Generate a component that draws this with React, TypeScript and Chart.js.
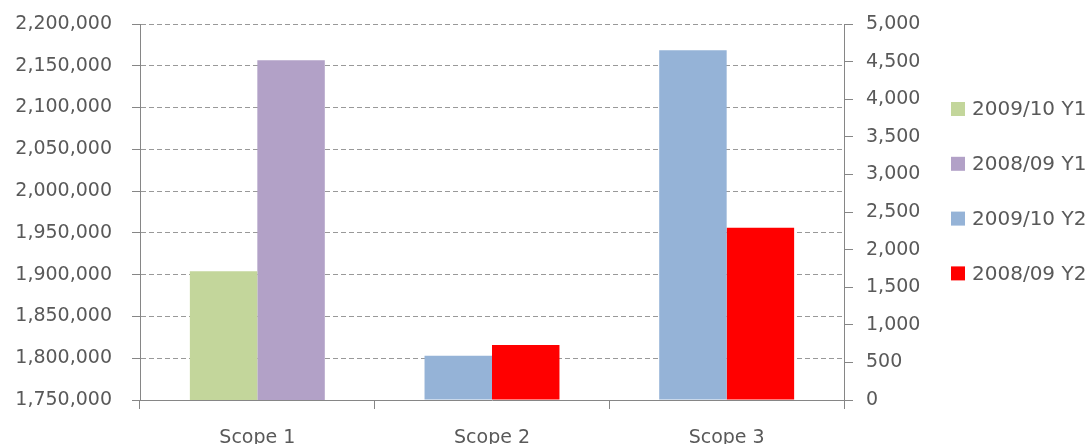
import React, { useEffect, useRef } from "react";
import { Chart, registerables } from "chart.js";

Chart.register(...registerables);

// ---- data ----
const categories = ["Scope 1", "Scope 2", "Scope 3"];
const seriesLabels = ["2009/10 Y1", "2008/09 Y1", "2009/10 Y2", "2008/09 Y2"];
const seriesColors = ["#C3D69B", "#B2A1C7", "#95B3D7", "#FF0000"];
const y1_2009_10 = [1904000, null, null];
const y1_2008_09 = [2156500, null, null];
const y2_2009_10 = [null, 590, 4650];
const y2_2008_09 = [null, 733, 2290];
const leftAxisMin = 1750000;
const leftAxisMax = 2200000;
const leftAxisStep = 50000;
const rightAxisMin = 0;
const rightAxisMax = 5000;
const rightAxisStep = 500;

const TEXT = "#595959";
const AXIS = "#868686";
const GRID = "#999999";
const FONT = "'DejaVu Sans', sans-serif";

const fmt = (v: number) => Number(v).toLocaleString("en-US");

const sideLegend = {
  id: "sideLegend",
  afterDraw(chart: any) {
    const ctx = chart.ctx as CanvasRenderingContext2D;
    const x0 = chart.width - 137;
    const yStart = chart.chartArea.top + 85;
    const gap = 54.8;
    ctx.save();
    ctx.font = `20px ${FONT}`;
    ctx.textBaseline = "middle";
    ctx.textAlign = "left";
    chart.data.datasets.forEach((ds: any, i: number) => {
      const y = yStart + i * gap;
      ctx.fillStyle = ds.backgroundColor;
      ctx.fillRect(x0, y - 7, 14, 14);
      ctx.fillStyle = TEXT;
      ctx.fillText(ds.label, x0 + 21, y + 1);
    });
    ctx.restore();
  },
};

export default function App() {
  const ref = useRef<HTMLCanvasElement | null>(null);

  useEffect(() => {
    if (!ref.current) return;
    const chart = new Chart(ref.current, {
      type: "bar",
      data: {
        labels: categories,
        datasets: [
          { label: seriesLabels[0], data: y1_2009_10, backgroundColor: seriesColors[0], yAxisID: "y" },
          { label: seriesLabels[1], data: y1_2008_09, backgroundColor: seriesColors[1], yAxisID: "y" },
          { label: seriesLabels[2], data: y2_2009_10, backgroundColor: seriesColors[2], yAxisID: "y1" },
          { label: seriesLabels[3], data: y2_2008_09, backgroundColor: seriesColors[3], yAxisID: "y1" },
        ] as any,
      },
      options: {
        responsive: false,
        animation: false,
        maintainAspectRatio: false,
        layout: { padding: { left: 0, right: 144, top: 24, bottom: 0 } },
        datasets: {
          bar: {
            skipNull: true,
            categoryPercentage: 0.575,
            barPercentage: 1,
            borderWidth: 0,
          },
        } as any,
        plugins: {
          legend: { display: false },
          tooltip: { enabled: false },
        },
        scales: {
          x: {
            offset: true,
            grid: {
              offset: true,
              drawOnChartArea: false,
              drawTicks: true,
              tickLength: 9,
              tickColor: AXIS,
            },
            border: { color: AXIS, width: 1 },
            ticks: { color: TEXT, font: { family: FONT, size: 19 }, padding: 18, maxRotation: 0 },
            afterFit: (s: any) => { s.height = 44; },
          },
          y: {
            position: "left",
            min: leftAxisMin,
            max: leftAxisMax,
            grid: {
              color: GRID,
              tickColor: AXIS,
              tickLength: 8,
              tickBorderDash: [],
            } as any,
            border: { color: AXIS, width: 1, dash: [5, 3] } as any,
            ticks: {
              stepSize: leftAxisStep,
              color: TEXT,
              font: { family: FONT, size: 19 },
              padding: 20,
              callback: (v: any) => fmt(v),
            },
            afterFit: (s: any) => { s.width = 140; s.paddingTop = 10; s.paddingBottom = 10; },
          },
          y1: {
            position: "right",
            min: rightAxisMin,
            max: rightAxisMax,
            grid: {
              drawOnChartArea: false,
              tickColor: AXIS,
              tickLength: 9,
            },
            border: { color: AXIS, width: 1 },
            ticks: {
              stepSize: rightAxisStep,
              color: TEXT,
              font: { family: FONT, size: 19 },
              padding: 13,
              callback: (v: any) => fmt(v),
            },
            afterFit: (s: any) => { s.width = 100; s.paddingTop = 10; s.paddingBottom = 10; },
          },
        },
      },
      plugins: [sideLegend],
    });
    return () => chart.destroy();
  }, []);

  return (
    <div style={{ position: "absolute", left: 0, top: 0, width: 1088, height: 444, background: "#fff" }}>
      <canvas ref={ref} width={1088} height={444} style={{ display: "block" }} />
    </div>
  );
}
